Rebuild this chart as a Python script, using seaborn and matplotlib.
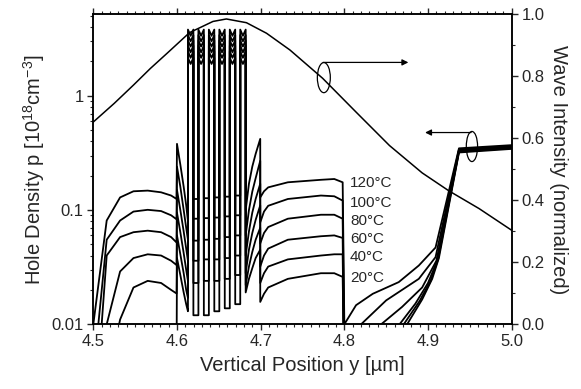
import matplotlib
matplotlib.use("Agg")
import matplotlib.pyplot as plt
import seaborn as sns
import pandas as pd
from matplotlib.patches import Ellipse
from matplotlib.ticker import LogLocator, NullFormatter, MultipleLocator, FormatStrFormatter

# ---------------- data ----------------
temps = [120, 100, 80, 60, 40, 20]

# bulk layer 4.5 - 4.6 um
bulk_x = [4.500, 4.516, 4.532, 4.548, 4.565, 4.581, 4.593, 4.5995]
bulk_p = [
    [0.0100, 0.081, 0.129, 0.146, 0.148, 0.143, 0.134, 0.125],
    [0.0036, 0.055, 0.081, 0.097, 0.1005, 0.098, 0.090, 0.083],
    [0.0010, 0.040, 0.058, 0.064, 0.066, 0.064, 0.058, 0.052],
    [0.0010, 0.0100, 0.029, 0.038, 0.041, 0.040, 0.036, 0.033],
    [0.0010, 0.0030, 0.011, 0.021, 0.024, 0.023, 0.020, 0.0186],
    [0.0010, 0.0020, 0.004, 0.006, 0.007, 0.007, 0.006, 0.005],
]

# left confinement spike 4.600 - 4.613
spike_left_x = [4.6000, 4.6040, 4.6080, 4.6110, 4.6131]
spike_left_p = [
    [0.38, 0.25, 0.16, 0.11, 0.08],
    [0.24, 0.16, 0.10, 0.07, 0.055],
    [0.15, 0.10, 0.065, 0.046, 0.036],
    [0.095, 0.064, 0.042, 0.030, 0.024],
    [0.060, 0.041, 0.028, 0.020, 0.017],
    [0.038, 0.027, 0.019, 0.015, 0.013],
]

# quantum wells
well_start = [4.6131, 4.6256, 4.6381, 4.6506, 4.6631, 4.6756]
well_mid = [4.6163, 4.6288, 4.6413, 4.6538, 4.6663, 4.6788]
well_end = [4.6196, 4.6321, 4.6446, 4.6571, 4.6696, 4.6821]
well_edge_p = [2.15, 2.45, 2.75, 3.05, 3.4, 3.8]
well_center_p = [1.9, 2.15, 2.4, 2.7, 3.0, 3.35]

# barriers between wells
barrier_p = [
    [0.125, 0.127, 0.129, 0.131, 0.134],
    [0.084, 0.085, 0.086, 0.088, 0.090],
    [0.054, 0.055, 0.056, 0.058, 0.060],
    [0.036, 0.037, 0.037, 0.038, 0.040],
    [0.023, 0.024, 0.024, 0.025, 0.027],
    [0.0120, 0.0120, 0.0130, 0.0138, 0.0150],
]

# right confinement spike 4.682 - 4.700
spike_right_x = [4.6821, 4.6860, 4.6900, 4.6940, 4.6995]
spike_right_p = [
    [0.10, 0.17, 0.24, 0.31, 0.42],
    [0.06, 0.10, 0.145, 0.19, 0.27],
    [0.04, 0.065, 0.095, 0.125, 0.17],
    [0.028, 0.045, 0.063, 0.082, 0.11],
    [0.022, 0.032, 0.043, 0.055, 0.07],
    [0.019, 0.025, 0.031, 0.038, 0.045],
]

# cladding 4.7 - 4.8 um
clad_x = [4.6995, 4.7040, 4.7090, 4.7325, 4.7720, 4.7880, 4.7980]
clad_p = [
    [0.129, 0.146, 0.158, 0.175, 0.184, 0.187, 0.175],
    [0.078, 0.097, 0.109, 0.125, 0.134, 0.132, 0.121],
    [0.051, 0.063, 0.071, 0.084, 0.091, 0.091, 0.084],
    [0.032, 0.040, 0.046, 0.055, 0.059, 0.060, 0.057],
    [0.023, 0.028, 0.032, 0.037, 0.040, 0.041, 0.041],
    [0.0157, 0.0185, 0.021, 0.025, 0.028, 0.028, 0.026],
]

# p-side 4.8 - 5.0 um
pside_x = [
    [4.800, 4.814, 4.834, 4.865, 4.889, 4.909, 4.937, 5.000],
    [4.800, 4.820, 4.850, 4.889, 4.909, 4.937, 5.000],
    [4.800, 4.844, 4.869, 4.893, 4.910, 4.937, 5.000],
    [4.800, 4.866, 4.885, 4.900, 4.911, 4.937, 5.000],
    [4.800, 4.871, 4.890, 4.903, 4.912, 4.937, 5.000],
    [4.800, 4.875, 4.893, 4.905, 4.913, 4.937, 5.000],
]
pside_p = [
    [0.0100, 0.0147, 0.0185, 0.0234, 0.0327, 0.047, 0.347, 0.370],
    [0.004, 0.0100, 0.0162, 0.025, 0.0387, 0.340, 0.364],
    [0.003, 0.0100, 0.0142, 0.021, 0.036, 0.334, 0.358],
    [0.003, 0.0100, 0.0152, 0.023, 0.036, 0.329, 0.353],
    [0.003, 0.0100, 0.0160, 0.024, 0.037, 0.324, 0.348],
    [0.003, 0.0100, 0.0165, 0.025, 0.038, 0.319, 0.343],
]

# optical wave intensity (right axis)
wave_x = [4.500, 4.525, 4.548, 4.568, 4.588, 4.615, 4.643, 4.659, 4.683,
          4.707, 4.735, 4.774, 4.814, 4.854, 4.893, 4.925, 4.961, 5.000]
wave_v = [0.652, 0.712, 0.771, 0.824, 0.873, 0.940, 0.976, 0.984, 0.972,
          0.938, 0.884, 0.793, 0.684, 0.576, 0.488, 0.430, 0.373, 0.303]

temp_labels = ["120°C", "100°C", "80°C", "60°C", "40°C", "20°C"]

# ---------------- build long-form table ----------------
rows = []
for i, T in enumerate(temps):
    xs = list(bulk_x) + list(spike_left_x)
    ps = list(bulk_p[i]) + list(spike_left_p[i])
    for w in range(len(well_start)):
        xs += [well_start[w], well_mid[w], well_end[w]]
        ps += [well_edge_p[i], well_center_p[i], well_edge_p[i]]
        if w < len(well_start) - 1:
            xs += [well_end[w], well_start[w + 1]]
            ps += [barrier_p[i][w], barrier_p[i][w]]
    xs += list(spike_right_x) + list(clad_x) + list(pside_x[i])
    ps += list(spike_right_p[i]) + list(clad_p[i]) + list(pside_p[i])
    for k, (x, p) in enumerate(zip(xs, ps)):
        rows.append({"T": T, "k": k, "y": x, "p": p})
df = pd.DataFrame(rows)
wave_df = pd.DataFrame({"y": wave_x, "v": wave_v})

# ---------------- styling ----------------
sns.set_style("ticks")
plt.rcParams["font.family"] = ["Liberation Sans", "DejaVu Sans"]
plt.rcParams["mathtext.default"] = "regular"

fig = plt.figure(figsize=(5.81, 3.89), dpi=100)
ax = fig.add_axes([0.1606, 0.1663, 0.7201, 0.7977])

sns.lineplot(data=df, x="y", y="p", hue="T", palette=["black"] * len(temps),
             estimator=None, sort=False, legend=False, lw=1.3, ax=ax)
ax.set_yscale("log")
ax.set_xlim(4.5, 5.0)
ax.set_ylim(0.01, 5.2)

ax2 = ax.twinx()
sns.lineplot(data=wave_df, x="y", y="v", color="black", lw=1.1,
             estimator=None, sort=False, ax=ax2)
ax2.set_ylim(0.0, 1.0)
ax2.set_xlim(4.5, 5.0)

# ticks
ax.set_xticks([4.5, 4.6, 4.7, 4.8, 4.9, 5.0])
ax.xaxis.set_major_formatter(FormatStrFormatter("%.1f"))
ax.xaxis.set_minor_locator(MultipleLocator(0.01))
ax.set_yticks([0.01, 0.1, 1])
ax.set_yticklabels(["0.01", "0.1", "1"])
ax.yaxis.set_minor_locator(LogLocator(base=10, subs=[2, 3, 4, 5, 6, 7, 8, 9]))
ax.yaxis.set_minor_formatter(NullFormatter())
ax.tick_params(axis="both", which="major", direction="out", length=4, width=1.0,
               labelsize=12, top=True, pad=3)
ax.tick_params(axis="both", which="minor", direction="out", length=2.2, width=0.8, top=True)
ax.tick_params(axis="y", which="both", right=False)

ax2.yaxis.set_major_locator(MultipleLocator(0.2))
ax2.yaxis.set_minor_locator(MultipleLocator(0.1))
ax2.yaxis.set_major_formatter(FormatStrFormatter("%.1f"))
ax2.tick_params(axis="y", which="major", direction="out", length=4, width=1.0, labelsize=12, pad=3)
ax2.tick_params(axis="y", which="minor", direction="out", length=2.2, width=0.8)

for a in (ax, ax2):
    for s in a.spines.values():
        s.set_visible(True)
        s.set_linewidth(1.1)
        s.set_color("black")

ax.set_xlabel("Vertical Position y [µm]", fontsize=14.5, labelpad=5)
ax.set_ylabel("Hole Density p [10$^{18}$cm$^{-3}$]", fontsize=14.5, labelpad=3)
ax2.set_ylabel("Wave Intensity (normalized)", fontsize=14.5, rotation=270, labelpad=17)

# temperature labels
label_y = [0.455, 0.392, 0.333, 0.275, 0.216, 0.150]
for t, yy in zip(temp_labels, label_y):
    ax.text(0.6135, yy, t, transform=ax.transAxes, fontsize=11, va="center", ha="left")

# ellipses and arrows
ax.add_patch(Ellipse((0.551, 0.795), 0.031, 0.097, transform=ax.transAxes,
                     fill=False, lw=0.9, ec="black"))
ax.annotate("", xy=(0.753, 0.844), xytext=(0.549, 0.844), xycoords="axes fraction",
            arrowprops=dict(arrowstyle="-|>", lw=0.9, color="black", mutation_scale=9,
                            shrinkA=0, shrinkB=0))
ax.add_patch(Ellipse((0.905, 0.573), 0.027, 0.097, transform=ax.transAxes,
                     fill=False, lw=0.9, ec="black"))
ax.annotate("", xy=(0.793, 0.618), xytext=(0.903, 0.618), xycoords="axes fraction",
            arrowprops=dict(arrowstyle="-|>", lw=0.9, color="black", mutation_scale=9,
                            shrinkA=0, shrinkB=0))

fig.savefig("out.png", dpi=100)
